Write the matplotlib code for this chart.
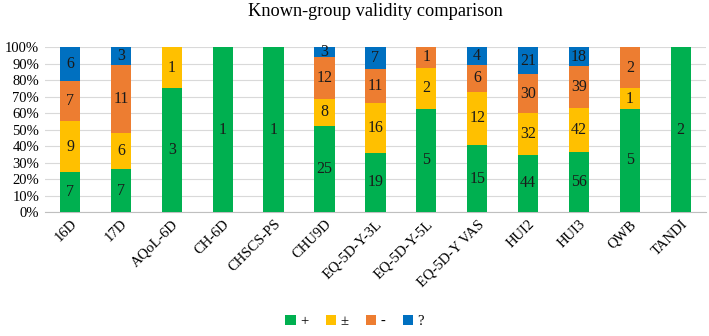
import matplotlib.pyplot as plt
import numpy as np

# instruments on the x-axis
instruments = ["16D", "17D", "AQoL-6D", "CH-6D", "CHSCS-PS", "CHU9D", "EQ-5D-Y-3L",
               "EQ-5D-Y-5L", "EQ-5D-Y VAS", "HUI2", "HUI3", "QWB", "TANDI"]

# counts per category
plus = [7, 7, 3, 1, 1, 25, 19, 5, 15, 44, 56, 5, 2]
plusminus = [9, 6, 1, 0, 0, 8, 16, 2, 12, 32, 42, 1, 0]
minus = [7, 11, 0, 0, 0, 12, 11, 1, 6, 30, 39, 2, 0]
unknown = [6, 3, 0, 0, 0, 3, 7, 0, 4, 21, 18, 0, 0]

series_names = ["+", "\u00b1", "-", "?"]
colors = ["#00B050", "#FFC000", "#ED7D31", "#0070C0"]

plt.rcParams['font.family'] = ['Liberation Serif', 'DejaVu Serif']

counts = np.array([plus, plusminus, minus, unknown], dtype=float)
totals = counts.sum(axis=0)
shares = counts / totals * 100

fig = plt.figure(figsize=(7.09, 3.36), dpi=100)
ax = fig.add_axes([0.063, 0.369, 0.933, 0.491])

x = np.arange(len(instruments))
bottom = np.zeros(len(instruments))
for i in range(4):
    ax.bar(x, shares[i], 0.4, bottom=bottom, color=colors[i], label=series_names[i], zorder=3)
    for j in range(len(instruments)):
        if counts[i][j] > 0:
            ax.text(x[j], bottom[j] + shares[i][j] / 2, "%d" % counts[i][j],
                    ha="center", va="center", fontsize=11.5, color="#1a1a1a", zorder=4)
    bottom += shares[i]

ax.set_ylim(0, 100)
ax.set_xlim(-0.5, len(instruments) - 0.5)
ax.set_yticks(np.arange(0, 101, 10))
ax.set_yticklabels(["%d%%" % v for v in range(0, 101, 10)], fontsize=10.5)
ax.set_xticks(x)
ax.set_xticklabels(instruments, rotation=45, ha="right", rotation_mode="anchor", fontsize=10.5)
ax.tick_params(length=0, pad=4)
ax.grid(axis="y", color="#d9d9d9", linewidth=0.8, zorder=0)
for s in ["top", "right", "left"]:
    ax.spines[s].set_visible(False)
ax.spines["bottom"].set_color("#bfbfbf")

ax.set_title("Known-group validity comparison", fontsize=13.2, pad=22)

fig.legend(loc="lower center", bbox_to_anchor=(0.5, -0.015), ncol=4, frameon=False,
           fontsize=10.5, handlelength=0.7, handleheight=0.7, handletextpad=0.3,
           columnspacing=1.2)

fig.savefig("out.png", dpi=100)
